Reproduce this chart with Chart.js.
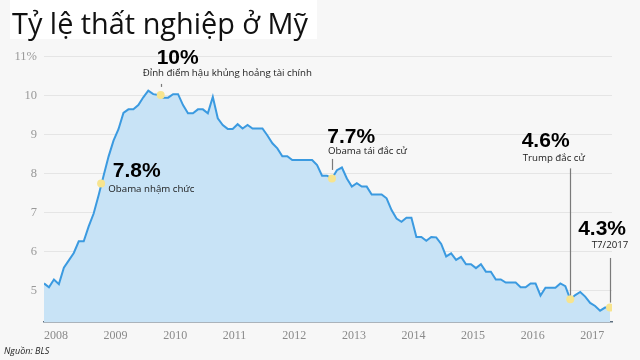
<!DOCTYPE html>
<html><head><meta charset="utf-8">
<script src="https://cdn.jsdelivr.net/npm/chart.js@4"></script>
<style>
html,body{margin:0;padding:0;background:#f7f7f7;}
#wrap{position:relative;width:640px;height:360px;}
canvas{display:block;}
</style>
</head><body>
<div id="wrap"><canvas id="c" width="640" height="360"></canvas></div>
<script>
// ---- data ----
const titleText = 'Tỷ lệ thất nghiệp ở Mỹ';
const sourceText = 'Nguồn: BLS';
const yearLabels = ['2008','2009','2010','2011','2012','2013','2014','2015','2016','2017'];
const yTickValues = [5, 6, 7, 8, 9, 10, 11];
// monthly unemployment rate, Jan 2008 .. Jul 2017 (month index 0..114)
const rate2008 = [5.19, 5.09, 5.29, 5.17, 5.59, 5.78, 5.97, 6.27, 6.27, 6.65, 6.98, 7.45];
const rate2009 = [7.95, 8.44, 8.85, 9.14, 9.56, 9.65, 9.65, 9.76, 9.96, 10.13, 10.04, 10.02];
const rate2010 = [9.95, 9.95, 10.04, 10.04, 9.76, 9.55, 9.55, 9.65, 9.65, 9.55, 9.97, 9.42];
const rate2011 = [9.25, 9.15, 9.15, 9.27, 9.16, 9.25, 9.16, 9.16, 9.16, 8.98, 8.78, 8.65];
const rate2012 = [8.45, 8.45, 8.35, 8.35, 8.35, 8.35, 8.35, 8.22, 7.95, 7.95, 7.88, 8.09];
const rate2013 = [8.16, 7.88, 7.67, 7.76, 7.67, 7.67, 7.47, 7.47, 7.47, 7.37, 7.07, 6.85];
const rate2014 = [6.77, 6.87, 6.87, 6.38, 6.38, 6.28, 6.38, 6.37, 6.20, 5.88, 5.96, 5.79];
const rate2015 = [5.87, 5.68, 5.68, 5.58, 5.68, 5.49, 5.49, 5.29, 5.29, 5.21, 5.21, 5.21];
const rate2016 = [5.09, 5.09, 5.19, 5.19, 4.88, 5.08, 5.08, 5.08, 5.19, 5.12, 4.78, 4.89];
const rate2017 = [4.97, 4.85, 4.69, 4.61, 4.49, 4.57, 4.57];
const rate = [].concat(rate2008, rate2009, rate2010, rate2011, rate2012, rate2013, rate2014, rate2015, rate2016, rate2017);
// highlighted events (month index, plotted rate, labels)
const eventMonth   = [11.5, 23.5, 58, 106, 114];
const eventRate    = [7.75, 10.02, 7.88, 4.78, 4.57];
const eventValue   = ['7.8%', '10%', '7.7%', '4.6%', '4.3%'];
const eventCaption = ['Obama nhậm chức', 'Đỉnh điểm hậu khủng hoảng tài chính', 'Obama tái đắc cử', 'Trump đắc cử', 'T7/2017'];

// ---- layout of the annotation texts relative to their dot (pixels) ----
const annLayout = [
  {vx: 11.6, vy: -6.8, cx: 7.2, cy: 5.5, align: 'left', line: null},
  {vx: -4, vy: -31, cx: -18, cy: -22, align: 'left', line: [-11, -8]},
  {vx: -4.7, vy: -35.8, cx: -4, cy: -27.5, align: 'left', line: [-19.5, -8.5]},
  {vx: -48.6, vy: -152, cx: -47.6, cy: -141, align: 'left', line: [-131, -4]},
  {vx: 16, vy: -72.6, cx: 18.3, cy: -62, align: 'right', line: [-49.6, -5]}
];

const BG = '#f7f7f7';

const decor = {
  id: 'decor',
  beforeDraw(chart) {
    const ctx = chart.ctx;
    ctx.save();
    ctx.fillStyle = BG;
    ctx.fillRect(0, 0, chart.width, chart.height);
    ctx.fillStyle = '#ffffff';
    ctx.fillRect(10, 0, 307, 39);
    ctx.restore();
  },
  afterDraw(chart) {
    const ctx = chart.ctx;
    const xs = chart.scales.x, ys = chart.scales.y;
    ctx.save();
    // title
    let size = 28;
    ctx.font = size + 'px "Open Sans"';
    const w = ctx.measureText(titleText).width;
    size = size * 296 / w;
    ctx.font = size.toFixed(2) + 'px "Open Sans"';
    ctx.fillStyle = '#111111';
    ctx.textAlign = 'left';
    ctx.textBaseline = 'alphabetic';
    ctx.fillText(titleText, 12, 34);
    // source
    ctx.font = 'italic 9px "Open Sans"';
    ctx.fillStyle = '#222222';
    ctx.fillText(sourceText, 4, 354);
    // annotations
    for (let i = 0; i < eventMonth.length; i++) {
      const px = xs.getPixelForValue(eventMonth[i]);
      const py = ys.getPixelForValue(eventRate[i]);
      const L = annLayout[i];
      if (L.line) {
        ctx.strokeStyle = '#7a7a7a';
        ctx.lineWidth = 1.2;
        ctx.beginPath();
        ctx.moveTo(Math.round(px) + 0.5, py + L.line[0]);
        ctx.lineTo(Math.round(px) + 0.5, py + L.line[1]);
        ctx.stroke();
      }
      ctx.textAlign = L.align;
      ctx.fillStyle = '#000000';
      ctx.font = 'bold 21px "Liberation Sans"';
      ctx.textBaseline = 'alphabetic';
      ctx.fillText(eventValue[i], px + L.vx, py + L.vy);
      ctx.font = '9.7px "Open Sans"';
      ctx.fillStyle = '#1a1a1a';
      ctx.textBaseline = 'middle';
      ctx.fillText(eventCaption[i], px + L.cx, py + L.cy);
    }
    ctx.restore();
  }
};

new Chart(document.getElementById('c'), {
  type: 'line',
  data: {
    datasets: [
      {
        type: 'scatter',
        data: eventMonth.map((m, i) => ({x: m, y: eventRate[i]})),
        pointRadius: 4,
        pointBackgroundColor: '#f7e48e',
        pointBorderWidth: 0,
        showLine: false,
        order: 0
      },
      {
        data: rate.map((v, i) => ({x: i, y: v})),
        borderColor: '#3b9ae0',
        borderWidth: 2,
        backgroundColor: '#c8e3f6',
        fill: 'start',
        pointRadius: 0,
        tension: 0,
        order: 1
      }
    ]
  },
  options: {
    responsive: false,
    animation: false,
    devicePixelRatio: 1,
    layout: {padding: {left: 0, right: 28, top: 45, bottom: 0}},
    plugins: {legend: {display: false}, tooltip: {enabled: false}, title: {display: false}},
    scales: {
      x: {
        type: 'linear',
        min: 0,
        max: 114.4,
        afterBuildTicks: s => { s.ticks = yearLabels.map((y, i) => ({value: i * 12})); },
        afterFit: s => { s.height = 38; },
        ticks: {
          callback: v => yearLabels[Math.round(v / 12)],
          align: 'start',
          autoSkip: false,
          maxRotation: 0,
          padding: 7,
          color: '#8a8a8a',
          font: {family: '"Liberation Sans Narrow"', size: 12}
        },
        grid: {display: false, drawTicks: false},
        border: {display: true, color: '#5f7080', width: 1.5}
      },
      y: {
        type: 'linear',
        min: 4.2,
        max: 11.3,
        z: 1,
        afterBuildTicks: s => { s.ticks = yTickValues.map(v => ({value: v})); },
        afterFit: s => { s.width = 44; },
        ticks: {
          callback: v => (v === 11 ? '11%' : String(v)),
          padding: 7,
          color: '#999999',
          font: {family: '"Liberation Sans Narrow"', size: 12.5}
        },
        grid: {color: 'rgba(226,226,226,0.85)', drawTicks: false, lineWidth: 1},
        border: {display: false}
      }
    }
  },
  plugins: [decor]
});
</script>
</body></html>
